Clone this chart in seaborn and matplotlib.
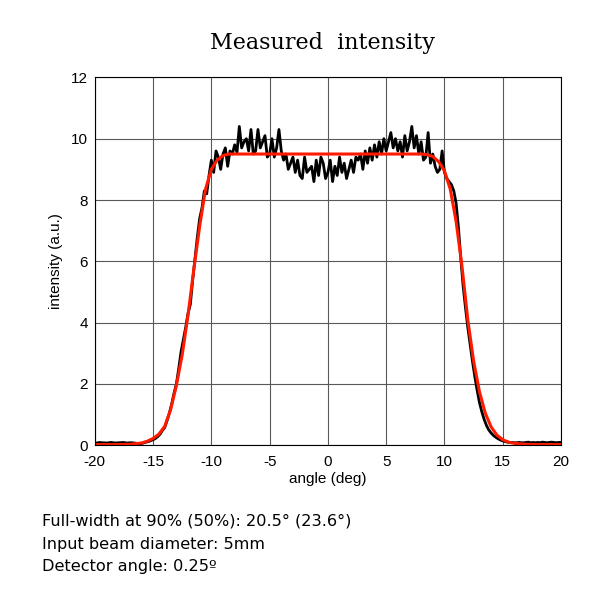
import numpy as np
import pandas as pd
import matplotlib
matplotlib.use('Agg')
import matplotlib.pyplot as plt
import seaborn as sns

# measured profile, sampled every 0.2 deg from -20 to 20
angle = np.round(np.arange(-20, 20.001, 0.2), 1)
intensity = [
    0.08, 0.07, 0.09, 0.08, 0.08, 0.07, 0.08, 0.09, 0.08, 0.07,
    0.08, 0.08, 0.09, 0.08, 0.07, 0.08, 0.08, 0.07, 0.06, 0.05,
    0.05, 0.08, 0.10, 0.12, 0.15, 0.18, 0.22, 0.28, 0.36, 0.48,
    0.58, 0.80, 1.05, 1.35, 1.70, 2.00, 2.50, 3.05, 3.45, 3.85,
    4.30, 4.60, 5.40, 6.10, 6.80, 7.40, 7.75, 8.30, 8.20, 8.80,
    9.30, 8.90, 9.60, 9.40, 9.00, 9.50, 9.70, 9.10, 9.60, 9.50,
    9.80, 9.55, 10.40, 9.70, 9.90, 10.00, 9.60, 10.30, 9.50, 9.60,
    10.30, 9.70, 9.90, 10.10, 9.40, 9.50, 10.00, 9.40, 9.70, 10.30,
    9.60, 9.30, 9.50, 9.00, 9.20, 9.40, 8.90, 9.30, 8.80, 8.70,
    9.40, 8.90, 9.00, 9.10, 8.60, 9.30, 8.80, 9.40, 9.20, 8.70,
    8.90, 9.30, 8.60, 9.10, 8.80, 9.40, 8.90, 9.20, 8.70, 9.00,
    9.30, 8.90, 9.40, 9.30, 9.50, 9.00, 9.60, 9.20, 9.70, 9.30,
    9.80, 9.40, 9.90, 9.50, 10.00, 9.60, 9.90, 10.20, 9.70, 10.00,
    9.60, 9.90, 9.40, 10.10, 9.60, 9.90, 10.40, 9.70, 10.10, 9.50,
    9.90, 9.30, 9.40, 10.20, 9.20, 9.50, 9.10, 8.90, 9.00, 9.60,
    8.90, 8.70, 8.60, 8.50, 8.30, 7.90, 7.10, 6.10, 5.20, 4.50,
    3.85, 3.30, 2.75, 2.25, 1.80, 1.40, 1.10, 0.85, 0.65, 0.50,
    0.40, 0.32, 0.26, 0.21, 0.17, 0.14, 0.12, 0.10, 0.09, 0.09,
    0.08, 0.08, 0.09, 0.08, 0.08, 0.09, 0.10, 0.08, 0.09, 0.08,
    0.09, 0.08, 0.10, 0.09, 0.08, 0.09, 0.10, 0.09, 0.08, 0.09,
    0.09,
]
assert len(angle) == len(intensity)

# fitted curve
fit_angle = [-20, -18, -17, -16, -15.5, -15, -14.5, -14, -13.5, -13,
             -12.5, -12, -11.5, -11, -10.5, -10, -9.5, -9, -8.5, -8,
             8, 8.5, 9, 9.5, 10, 10.5, 11, 11.5, 12, 12.5,
             13, 13.5, 14, 14.5, 15, 15.5, 16, 17, 18, 20]
fit_intensity = [0.02, 0.02, 0.03, 0.07, 0.13, 0.22, 0.36, 0.62, 1.15, 1.95,
                 2.95, 4.25, 5.75, 7.15, 8.35, 9.00, 9.30, 9.45, 9.50, 9.50,
                 9.50, 9.48, 9.42, 9.25, 8.95, 8.35, 7.30, 5.85, 4.10, 2.75,
                 1.75, 1.05, 0.60, 0.33, 0.18, 0.10, 0.06, 0.03, 0.02, 0.02]

info_lines = ["Full-width at 90% (50%): 20.5\u00b0 (23.6\u00b0)",
              "Input beam diameter: 5mm",
              "Detector angle: 0.25\u00ba"]

meas = pd.DataFrame({'angle': angle, 'intensity': intensity})
fit = pd.DataFrame({'angle': fit_angle, 'intensity': fit_intensity})

sns.set_style('white')
plt.rcParams['font.family'] = ['Liberation Sans', 'DejaVu Sans']
plt.rcParams['axes.unicode_minus'] = False
for k in ['text.color', 'axes.labelcolor', 'xtick.color', 'ytick.color']:
    plt.rcParams[k] = 'black'

fig = plt.figure(figsize=(6, 6), dpi=100)
ax = fig.add_axes([0.158, 0.258, 0.777, 0.613])

sns.lineplot(data=meas, x='angle', y='intensity', color='black', lw=2.0, ax=ax)
sns.lineplot(data=fit, x='angle', y='intensity', color='#ff1a00', lw=2.2, ax=ax)

ax.set_xlim(-20, 20)
ax.set_ylim(0, 12)
ax.set_xticks(range(-20, 21, 5))
ax.set_yticks(range(0, 13, 2))
ax.grid(True, color='0.35', lw=0.8)
for s in ax.spines.values():
    s.set_color('black')
    s.set_linewidth(0.8)
ax.tick_params(labelsize=11, length=0)
ax.tick_params(axis='x', pad=7)
ax.tick_params(axis='y', pad=5)
ax.set_xlabel('angle (deg)', fontsize=11, labelpad=2)
ax.set_ylabel('intensity (a.u.)', fontsize=11, labelpad=6)

fig.text(0.537, 0.928, 'Measured  intensity', ha='center', va='center',
         fontsize=16, family='DejaVu Serif')

for i, line in enumerate(info_lines):
    fig.text(0.07, 1 - (521 + 23 * i) / 600, line, ha='left', va='center',
             fontsize=11.6, family='DejaVu Sans')

fig.savefig('out.png', dpi=100)
